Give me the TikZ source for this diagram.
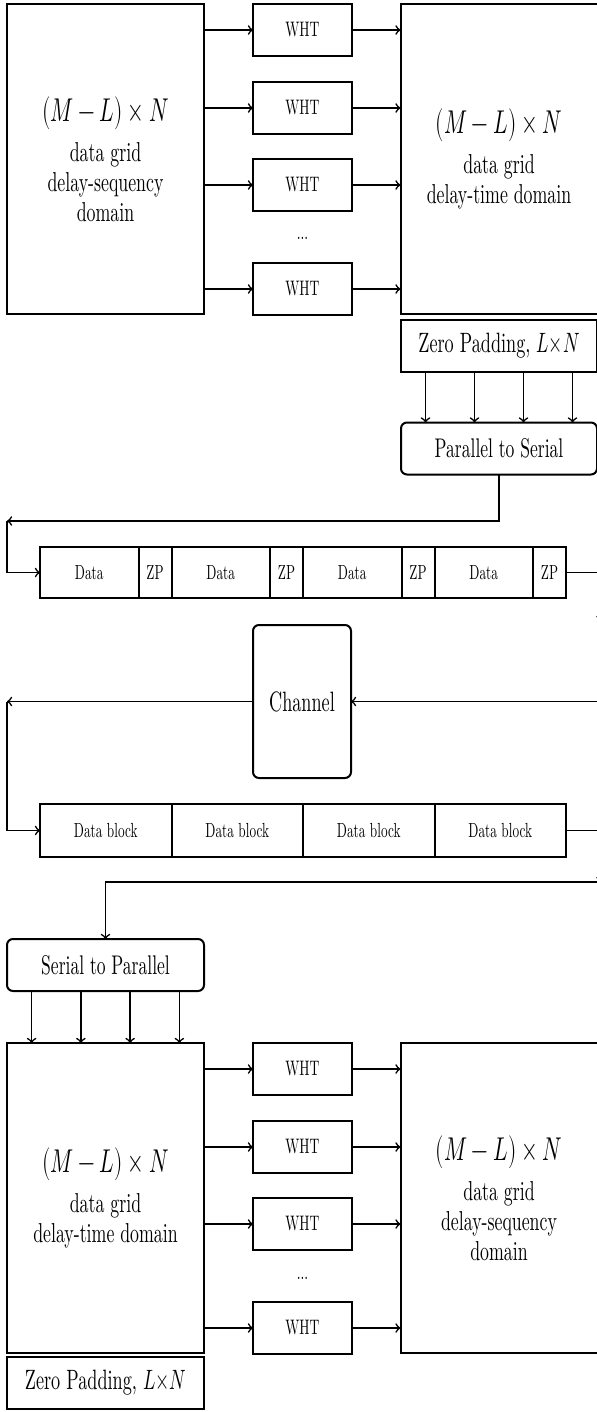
\documentclass[tikz,border=0pt]{standalone}
\usepackage{graphicx}
\usepackage{fontspec}
\setmainfont{lmroman10-regular.otf}[FakeStretch=0.65]
\usepackage{unicode-math}
\setmathfont{latinmodern-math.otf}
\usetikzlibrary{positioning, calc}

\tikzset{
  box/.style={draw, line width=1pt, inner sep=0pt, outer sep=0pt},
  gridbox/.style={box, minimum width=98.5pt, minimum height=155pt, align=center, font=\fontsize{13.7}{15}\selectfont},
  whtbox/.style={box, minimum width=49.5pt, minimum height=26pt, font=\fontsize{10.5}{12}\selectfont},
  padbox/.style={box, minimum width=98pt, minimum height=26pt, font=\fontsize{14}{15}\selectfont},
  convbox/.style={padbox, rounded corners=3pt, font=\fontsize{13.5}{15}\selectfont},
  datacell/.style={box, minimum width=49.25pt, minimum height=25.5pt, font=\fontsize{10.2}{12}\selectfont},
  zpcell/.style={datacell, minimum width=16.5pt},
  blockcell/.style={datacell, minimum width=65.75pt, minimum height=26.5pt},
  link/.style={->, line width=0.8pt},
}
% math is set narrow like the text
\newcommand{\narrow}[1]{\scalebox{0.65}[1]{#1}}
\newcommand{\dims}{{\fontsize{16.5}{18}\selectfont\narrow{$(M-L)\times N$}}}

\begin{document}
\begin{tikzpicture}[x=0.5pt, y=-0.5pt]
\useasboundingbox (0,0) rectangle (597,1412);

% transmitter: delay-sequency grid -> WHT -> delay-time grid
\node[gridbox] (gridA) at (105.5,159) {\dims\\[5pt] data grid\\ delay-sequency\\ domain};
\node[gridbox] (gridB) at (499,159) {\dims\\[5pt] data grid\\ delay-time domain};
\foreach \i/\y in {1/30, 2/108, 3/185, 4/289} {
  \node[whtbox] (whtA\i) at (302.5,\y) {WHT};
  \draw[link] (gridA.east |- whtA\i) -- (whtA\i.west);
  \draw[link] (whtA\i.east) -- (gridB.west |- whtA\i);
}
\node[font=\fontsize{10.5}{12}\selectfont] (dotsA) at (302.5,238) {...};

% zero padding, then parallel to serial
\node[padbox, below=3pt of gridB] (padA) {Zero Padding, \narrow{$L{\times}N$}};
\node[convbox] (p2s) at (499,448.5) {Parallel to Serial};
\foreach \f in {0.125,0.375,0.625,0.875}
  \draw[link] ($(padA.south west)!\f!(padA.south east)$) -- ($(p2s.north west)!\f!(p2s.north east)$);

% transmitted frame
\coordinate (turnA) at (7,521);
\draw[link] (p2s.south) |- (turnA);
\foreach \i [count=\k from 0] in {1,...,4} {
  \node[datacell, anchor=west] (d\i) at (40+131.5*\k,572.5) {Data};
  \node[zpcell, right=0pt of d\i] (z\i) {ZP};
}
\draw[link] (turnA) |- (d1.west);

% channel
\coordinate (turnB) at (601,621);
\draw[link] (z4.east) -| (turnB);
\node[box, rounded corners=3pt, minimum width=49pt, minimum height=76.5pt, font=\fontsize{14}{16}\selectfont] (chan) at (302,701.5) {Channel};
\draw[link] (turnB) |- (chan.east);
\coordinate (turnC) at (7,701.5);
\draw[link] (chan.west) -- (turnC);

% received frame
\foreach \i [count=\k from 0] in {1,...,4}
  \node[blockcell, anchor=west] (b\i) at (40+131.5*\k,830.5) {Data block};
\draw[link] (turnC) |- (b1.west);
\coordinate (turnD) at (601,882);
\draw[link] (b4.east) -| (turnD);

% receiver: serial to parallel, delay-time grid -> WHT -> delay-sequency grid
\node[convbox, minimum width=98.5pt] (s2p) at (105.5,965) {Serial to Parallel};
\draw[link] (turnD) -| (s2p.north);
\node[gridbox] (gridC) at (105.5,1198) {\dims\\[5pt] data grid\\ delay-time domain};
\node[gridbox] (gridD) at (499,1198) {\dims\\[5pt] data grid\\ delay-sequency\\ domain};
\foreach \f in {0.125,0.375,0.625,0.875}
  \draw[link] ($(s2p.south west)!\f!(s2p.south east)$) -- ($(gridC.north west)!\f!(gridC.north east)$);
\foreach \i/\y in {1/1069, 2/1147, 3/1224, 4/1328} {
  \node[whtbox] (whtB\i) at (302.5,\y) {WHT};
  \draw[link] (gridC.east |- whtB\i) -- (whtB\i.west);
  \draw[link] (whtB\i.east) -- (gridD.west |- whtB\i);
}
\node[font=\fontsize{10.5}{12}\selectfont] (dotsB) at (302.5,1278) {...};
\node[padbox, minimum width=98.5pt, below=2pt of gridC] (padB) {Zero Padding, \narrow{$L{\times}N$}};
\end{tikzpicture}
\end{document}
